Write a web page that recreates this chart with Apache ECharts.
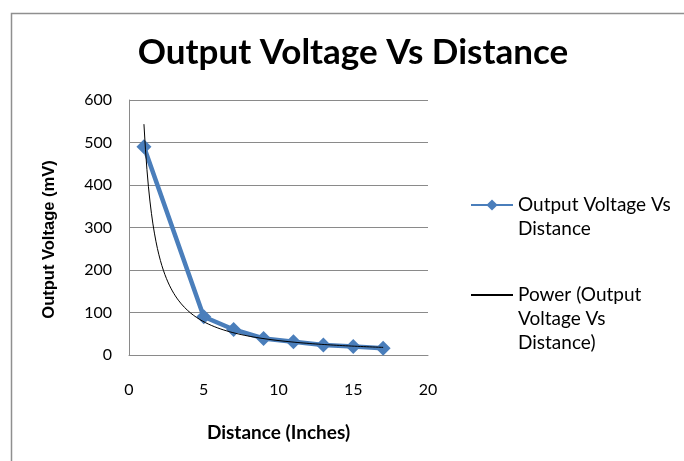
<!DOCTYPE html>
<html>
<head>
<meta charset="utf-8">
<script src="https://cdn.jsdelivr.net/npm/echarts@6/dist/echarts.min.js"></script>
<style>html,body{margin:0;padding:0;background:#fff;}#c{width:684px;height:461px;}</style>
</head>
<body>
<div id="c"></div>
<script>
// Data
const distances = [1, 5, 7, 9, 11, 13, 15, 17];
const voltages = [490, 90, 60, 39, 31, 23.5, 20, 16];
const xTicks = [0, 5, 10, 15, 20];
const yTicks = [0, 100, 200, 300, 400, 500, 600];
const seriesName = 'Output Voltage Vs Distance';
const trendName = 'Power (Output Voltage Vs Distance)';

// Power trendline y = a*x^b fitted by least squares on ln-ln (as Excel does)
function powerFit(xs, ys) {
  const lx = xs.map(Math.log), ly = ys.map(Math.log);
  const n = xs.length;
  const mx = lx.reduce((s, v) => s + v, 0) / n;
  const my = ly.reduce((s, v) => s + v, 0) / n;
  let sxy = 0, sxx = 0;
  for (let i = 0; i < n; i++) { sxy += (lx[i] - mx) * (ly[i] - my); sxx += (lx[i] - mx) * (lx[i] - mx); }
  const b = sxy / sxx;
  const a = Math.exp(my - b * mx);
  return { a, b };
}
const fit = powerFit(distances, voltages);
const trend = [];
const x0 = distances[0], x1 = distances[distances.length - 1];
for (let i = 0; i <= 160; i++) {
  const x = x0 + (x1 - x0) * i / 160;
  trend.push([x, fit.a * Math.pow(x, fit.b)]);
}

const chart = echarts.init(document.getElementById('c'), null, { renderer: 'canvas' });
const font = 'Lato, "Open Sans", sans-serif';
const gridColor = '#8a8a8a';
chart.setOption({
  animation: false,
  backgroundColor: '#ffffff',
  graphic: [{
    type: 'rect', left: 9, top: 11, shape: { width: 720, height: 500 },
    style: { fill: 'none', stroke: '#8f8f8f', lineWidth: 1.5 }, z: -1
  }],
  title: {
    text: 'Output Voltage Vs Distance',
    left: 353, top: 35, textAlign: 'center', padding: 0,
    textStyle: { fontFamily: font, fontWeight: 'bold', fontSize: 35, color: '#000' }
  },
  legend: [{
    data: [seriesName],
    left: 470, top: 169, orient: 'vertical', padding: 0,
    itemWidth: 42, itemHeight: 14, itemGap: 5,
    formatter: () => '\nOutput Voltage Vs\nDistance',
    textStyle: { fontFamily: font, fontSize: 19, lineHeight: 24, color: '#000' }
  }, {
    data: [{ name: trendName, itemStyle: { opacity: 0 } }],
    left: 470, top: 235, orient: 'vertical', padding: 0,
    itemWidth: 42, itemHeight: 14, itemGap: 5,
    formatter: () => '\n\nPower (Output\nVoltage Vs\nDistance)',
    textStyle: { fontFamily: font, fontSize: 19, lineHeight: 24, color: '#000' }
  }],
  grid: { left: 129, right: 256, top: 100, bottom: 106, containLabel: false },
  xAxis: {
    type: 'value', min: xTicks[0], max: xTicks[xTicks.length - 1], interval: 5,
    name: 'Distance (Inches)', nameLocation: 'middle', nameGap: 68,
    nameTextStyle: { fontFamily: font, fontWeight: 'bold', fontSize: 19, color: '#000' },
    axisLine: { show: true, lineStyle: { color: gridColor, width: 1 } },
    axisTick: { show: false },
    splitLine: { show: false },
    axisLabel: { margin: 27, fontFamily: font, fontSize: 16, color: '#000' }
  },
  yAxis: {
    type: 'value', min: yTicks[0], max: yTicks[yTicks.length - 1], interval: 100,
    name: 'Output Voltage (mV)', nameLocation: 'middle', nameGap: 71, nameRotate: 90,
    nameTextStyle: { fontFamily: '"Liberation Sans", Arial, sans-serif', fontWeight: 'bold', fontSize: 16.5, color: '#000', padding: [0, 24, 0, 0] },
    axisLine: { show: true, lineStyle: { color: gridColor, width: 1 } },
    axisTick: { show: false },
    splitLine: { show: true, lineStyle: { color: gridColor, width: 1 } },
    axisLabel: { margin: 17, fontFamily: font, fontSize: 16, color: '#000' }
  },
  series: [{
    name: seriesName, type: 'line',
    data: distances.map((d, i) => [d, voltages[i]]),
    symbol: 'diamond', symbolSize: 15,
    lineStyle: { color: '#4a7ebb', width: 4.5 },
    itemStyle: { color: '#4a7ebb' },
    z: 2
  }, {
    name: trendName, type: 'line',
    data: trend, showSymbol: false, symbol: 'none',
    lineStyle: { color: '#000', width: 1 },
    itemStyle: { color: '#000' },
    z: 3
  }]
});
</script>
</body>
</html>
